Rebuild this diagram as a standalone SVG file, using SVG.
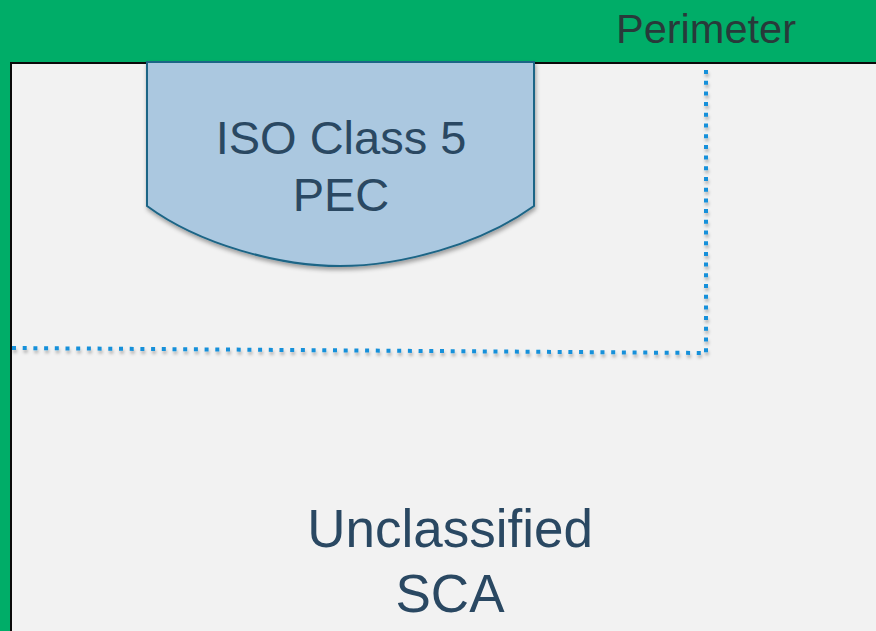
<svg xmlns="http://www.w3.org/2000/svg" width="876" height="631" viewBox="0 0 876 631">
  <defs>
    <filter id="sh" x="-10%" y="-10%" width="130%" height="140%">
      <feDropShadow dx="1" dy="3" stdDeviation="2" flood-color="#000" flood-opacity="0.35"/>
    </filter>
    <filter id="shd" filterUnits="userSpaceOnUse" x="0" y="50" width="876" height="330">
      <feDropShadow dx="1" dy="3" stdDeviation="1.5" flood-color="#000" flood-opacity="0.25"/>
    </filter>
  </defs>
  <style>
    .lbl { font-family: "Liberation Sans", Arial, sans-serif; fill: #2a4862; text-anchor: middle; }
    .dot { fill: none; stroke: #1590da; stroke-width: 4; stroke-dasharray: 4 6.7; }
  </style>
  <g id="perimeter">
    <rect x="0" y="0" width="876" height="631" fill="#00ad68"/>
    <rect x="11" y="63" width="866" height="569" fill="#f2f2f2" stroke="#0a0a0a" stroke-width="2"/>
    <text x="706" y="43" class="lbl" style="fill:#283a3a" font-size="40" textLength="180" lengthAdjust="spacingAndGlyphs">Perimeter</text>
  </g>
  <g id="connectors" filter="url(#shd)">
    <path class="dot" d="M12,348 L706,353"/>
    <path class="dot" d="M706,70 L706,353"/>
  </g>
  <g id="pec">
    <path d="M147,62 V206 C200,245 280,266 340,266 C400,266 480,245 534,206 V62 Z" fill="#abc8e0" stroke="#1d6586" stroke-width="2" filter="url(#sh)"/>
    <text x="341" y="154" class="lbl" font-size="47">ISO Class 5</text>
    <text x="341" y="211" class="lbl" font-size="47">PEC</text>
  </g>
  <g id="sca">
    <text x="450" y="547" class="lbl" font-size="53">Unclassified</text>
    <text x="450" y="612" class="lbl" font-size="53">SCA</text>
  </g>
</svg>
